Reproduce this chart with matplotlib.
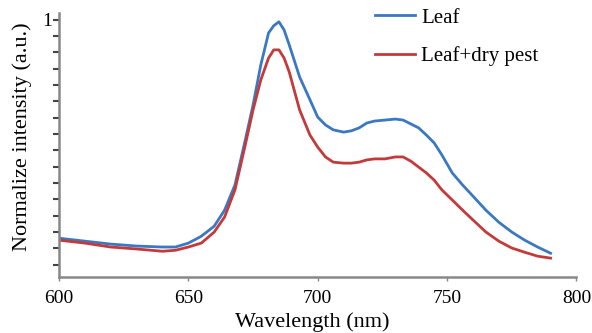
import numpy as np
import matplotlib.pyplot as plt
from matplotlib.ticker import MultipleLocator, FixedLocator

plt.rcParams['font.family'] = ['Liberation Serif', 'DejaVu Serif']

wl = [600, 610, 620, 630, 640, 645, 650, 655, 660, 664, 668, 672, 675, 678, 681, 683,
      685, 687, 689, 693, 697, 700, 703, 706, 710, 713, 716, 719, 722, 726, 730, 733,
      736, 739, 742, 745, 748, 752, 756, 760, 765, 770, 775, 780, 785, 790]
leaf = [0.331, 0.322, 0.313, 0.307, 0.304, 0.304, 0.316, 0.337, 0.368, 0.417, 0.494,
        0.632, 0.739, 0.862, 0.960, 0.982, 0.994, 0.969, 0.923, 0.825, 0.755, 0.702,
        0.678, 0.663, 0.656, 0.660, 0.669, 0.684, 0.690, 0.693, 0.696, 0.693, 0.681,
        0.669, 0.647, 0.623, 0.586, 0.531, 0.494, 0.460, 0.417, 0.380, 0.350, 0.325,
        0.304, 0.285]
pest = [0.325, 0.316, 0.304, 0.298, 0.291, 0.294, 0.304, 0.316, 0.350, 0.396, 0.479,
        0.617, 0.724, 0.816, 0.883, 0.908, 0.908, 0.883, 0.840, 0.724, 0.647, 0.610,
        0.580, 0.564, 0.561, 0.561, 0.564, 0.571, 0.574, 0.574, 0.580, 0.580, 0.567,
        0.549, 0.531, 0.509, 0.479, 0.448, 0.417, 0.387, 0.350, 0.322, 0.301, 0.288,
        0.276, 0.270]

fig = plt.figure(figsize=(5.92, 3.33), dpi=100)
ax = fig.add_axes([0.0997, 0.168, 0.874, 0.793])

ax.plot(wl, leaf, color='#3a78c4', lw=2.0, label='Leaf')
ax.plot(wl, pest, color='#c43a3a', lw=2.0, label='Leaf+dry pest')

ax.set_xlim(600, 800)
ax.set_ylim(0.212, 1.021)
ax.set_xticks([600, 650, 700, 750, 800])
ax.yaxis.set_major_locator(FixedLocator([1.0]))
ax.yaxis.set_minor_locator(MultipleLocator(0.05))
ax.set_yticklabels(['1'])

for s in ['top', 'right']:
    ax.spines[s].set_visible(False)
for s in ['left', 'bottom']:
    ax.spines[s].set_color('#888888')
    ax.spines[s].set_linewidth(1.8)

ax.tick_params(axis='y', which='both', length=4, width=1.5, color='#444444',
               labelsize=14, pad=1)
ax.tick_params(axis='x', length=3, width=1, color='#888888', labelsize=14, pad=6)

ax.set_xlabel('Wavelength (nm)', fontsize=16)
ax.set_ylabel('Normalize intensity (a.u.)', fontsize=16)
ax.xaxis.set_label_coords(0.49, -0.135)
ax.yaxis.set_label_coords(-0.052, 0.53)

ax.legend(loc='upper left', bbox_to_anchor=(0.575, 1.09), frameon=False,
          fontsize=15, handlelength=1.9, labelspacing=0.9, handletextpad=0.3)

fig.savefig('out.png', dpi=100)
